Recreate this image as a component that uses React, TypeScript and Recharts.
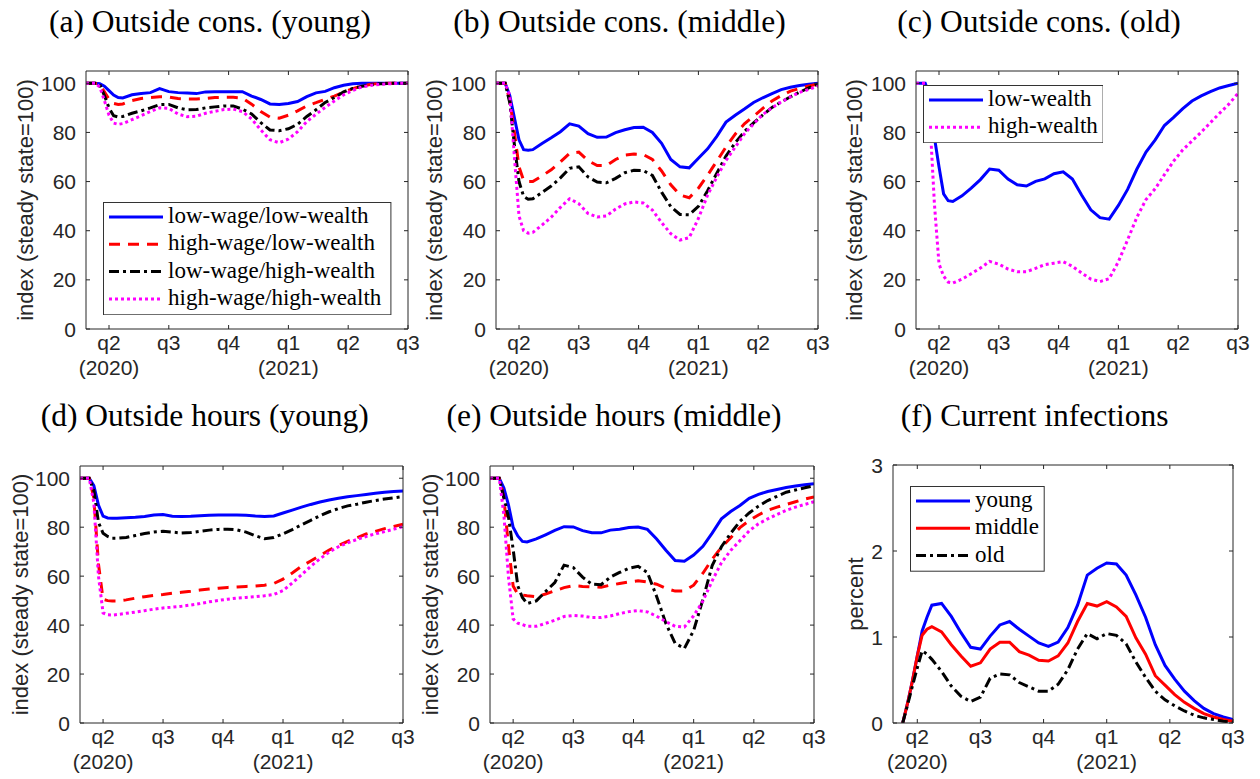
import React from 'react';
import { LineChart, Line, XAxis, YAxis, Legend } from 'recharts';

// ---------- shared axes ----------
const weeks = [0, 1, 2, 3, 4, 5, 6, 7, 8, 10, 12, 14, 16, 18, 20, 22, 24, 26, 28, 30, 32, 34, 36, 38, 40, 42, 44, 46, 48, 50, 52, 54, 56, 58, 60, 62, 64, 66, 68, 70];
const quarterTicks = [5, 18, 31, 44, 57, 70];
const quarterLabels = ['q2', 'q3', 'q4', 'q1', 'q2', 'q3'];
const yearLabels = ['(2020)', '', '', '(2021)', '', ''];
const indexTicks = [0, 20, 40, 60, 80, 100];
const percentTicks = [0, 1, 2, 3];

// ---------- (a) Outside cons. (young) ----------
const consYoungLwLw = [100, 100, 100, 99.8, 98.8, 97, 95.2, 94.2, 94, 95.3, 95.8, 96.2, 97.8, 96.6, 96.2, 96, 95.8, 96.5, 96.6, 96.6, 96.6, 96.6, 94.8, 93.4, 91.6, 91.4, 91.8, 92.6, 94.6, 96.1, 96.7, 98.2, 99.2, 99.8, 100, 100, 100, 100, 100, 100];
const consYoungHwLw = [100, 100, 100, 99.5, 96.5, 93.5, 91.8, 91.4, 91.6, 93, 93.8, 94.2, 94.5, 94.4, 93.8, 93.6, 93.6, 93.8, 94.2, 94.3, 94.3, 94, 91.5, 88.5, 86.2, 85.8, 87, 88.8, 90.8, 92.1, 93.5, 94.8, 96.4, 97.8, 98.9, 99.6, 100, 100, 100, 100];
const consYoungLwHw = [100, 100, 100, 99.5, 95, 90, 86.8, 86.3, 86.5, 87.8, 88.8, 90, 91.3, 91.4, 90, 89.2, 89.3, 90, 90.4, 90.8, 90.8, 89.5, 87.5, 84, 81, 80.7, 81.5, 83.3, 86.5, 89.2, 92.2, 94.2, 96.5, 97.9, 98.8, 99.4, 99.8, 100, 100, 100];
const consYoungHwHw = [100, 100, 100, 98.5, 93, 87, 83.8, 83.3, 83.6, 85.2, 86.8, 88.5, 90, 89.8, 87.5, 86.4, 86.6, 87.8, 88.6, 89.3, 89.5, 88.5, 85.5, 81, 77, 75.8, 77.3, 80.3, 84.4, 87.4, 90.2, 92.8, 95.3, 97.1, 98.5, 99.2, 99.6, 99.8, 100, 100];

// ---------- (b) Outside cons. (middle) ----------
const consMiddleLwLw = [100, 100, 100, 95, 86, 77, 73, 72.8, 73, 75.5, 77.8, 80.3, 83.5, 82.6, 79.5, 78, 78.1, 79.9, 81.1, 82, 82.1, 80, 75.6, 69, 66, 65.6, 69.5, 73.3, 78.4, 84.2, 87, 89.5, 92.2, 94.1, 95.8, 97.4, 98.4, 99.1, 99.6, 100];
const consMiddleHwLw = [100, 100, 100, 93, 80, 66, 60.5, 60, 60, 62.3, 64.8, 68, 71.5, 72, 68.5, 66.5, 66.5, 69, 70.8, 71.2, 71, 69, 64.3, 58.7, 54.5, 53.4, 57.3, 62.6, 68.3, 74.1, 79.3, 83.5, 86.6, 89.8, 92.8, 95, 96.8, 97.9, 98.9, 99.7];
const consMiddleLwHw = [100, 100, 100, 92, 75, 60, 54, 52.8, 53, 55.6, 58.2, 61.5, 65.4, 66, 61.9, 59.8, 59.5, 61.3, 63.6, 64.6, 64.5, 62.5, 55.7, 49.8, 46.6, 46.5, 49.9, 56.3, 63.4, 70.4, 75.8, 80.4, 83.9, 87.1, 90.2, 92.4, 94.5, 96.4, 98.1, 99.7];
const consMiddleHwHw = [100, 100, 100, 95, 70, 46, 40, 39, 39.3, 42.3, 45.5, 49.5, 53, 51, 47, 45.6, 46, 48.8, 50.9, 51.7, 51.3, 48.4, 43.3, 38.8, 36.2, 37.2, 45, 54.5, 61.8, 68.6, 74, 79.4, 83.5, 87.3, 90, 92.4, 94.5, 96.3, 97.5, 98.9];

// ---------- (c) Outside cons. (old) ----------
const consOldLw = [100, 100, 100, 95, 78, 66, 55, 52.2, 51.9, 54.2, 57.3, 60.8, 65.1, 64.6, 61, 58.7, 58.2, 60.1, 61.1, 63.2, 64, 61, 54.5, 48.5, 45.3, 44.7, 50.3, 56.8, 65, 72, 77, 82.8, 86.1, 89.7, 92.8, 94.9, 96.6, 98.1, 99.1, 100];
const consOldHw = [100, 100, 100, 86, 51, 26.5, 21.5, 19.1, 18.7, 20.3, 22.5, 24.8, 27.5, 26.4, 24.4, 23.3, 23.3, 24.7, 26.2, 26.8, 27.4, 25.5, 22.8, 20.3, 19.3, 20.5, 27.4, 36.3, 45.4, 52.7, 57.1, 62.8, 68.3, 72.9, 76.5, 80.1, 84, 87.8, 91.5, 95.9];

// ---------- (d) Outside hours (young) ----------
const hoursYoungLwLw = [100, 100, 100, 97, 89, 84.5, 83.8, 83.7, 83.7, 83.9, 84.1, 84.4, 85, 85.2, 84.5, 84.4, 84.5, 84.7, 84.9, 85, 85, 85, 84.9, 84.6, 84.4, 84.6, 85.8, 87, 88.2, 89.3, 90.3, 91.1, 91.8, 92.4, 92.9, 93.4, 93.9, 94.3, 94.6, 94.8];
const hoursYoungHwLw = [100, 100, 100, 92, 65, 50.5, 50, 49.8, 49.8, 50.3, 51, 51.6, 52.1, 52.5, 53, 53.4, 53.8, 54.3, 54.7, 55.1, 55.4, 55.6, 55.8, 56, 56.3, 57, 58.8, 61.3, 64, 66.2, 68.4, 70.7, 72.5, 74.2, 75.7, 77.2, 78.3, 79.4, 80.3, 81.2];
const hoursYoungLwHw = [100, 100, 100, 95, 82, 77.5, 76.2, 75.5, 75.5, 75.8, 76.6, 77.4, 78, 78.3, 78, 77.6, 77.8, 78.3, 78.8, 79.1, 79.2, 78.9, 78, 76.5, 75.3, 75.8, 77.3, 79, 81, 82.8, 84.7, 86.3, 87.6, 88.7, 89.4, 90.2, 90.9, 91.5, 92, 92.5];
const hoursYoungHwHw = [100, 100, 100, 90, 60, 45, 44.2, 44.1, 44.3, 44.8, 45.3, 45.9, 46.5, 47, 47.3, 47.7, 48.2, 48.8, 49.5, 50.1, 50.6, 51, 51.3, 51.6, 52, 52.5, 54.1, 57.2, 60.5, 64, 67.1, 69.8, 72, 73.6, 75, 76.2, 77.3, 78.2, 79.2, 80.2];

// ---------- (e) Outside hours (middle) ----------
const hoursMiddleLwLw = [100, 100, 100, 96, 89, 80, 76.4, 74.2, 74, 75.2, 76.9, 78.7, 80.2, 80.1, 78.6, 77.7, 77.7, 78.8, 79.2, 79.9, 80.1, 79.1, 75.2, 70.6, 66.4, 66.1, 68.6, 72.2, 77.6, 83.4, 86.4, 88.9, 91.8, 93.4, 94.6, 95.4, 96.2, 96.8, 97.3, 97.8];
const hoursMiddleHwLw = [100, 100, 100, 92, 72, 56, 52.6, 52.3, 52, 51.6, 52.7, 54, 55.3, 56.1, 55.8, 55.6, 55.5, 56.3, 57, 57.6, 58.1, 57.6, 56.7, 55, 53.9, 54, 56.3, 61.2, 66.9, 71.8, 75.7, 79.8, 82.7, 85, 86.9, 88.2, 89.3, 90.4, 91.5, 92.4];
const hoursMiddleLwHw = [100, 100, 100, 92, 84, 71, 56, 51.3, 48.8, 49.9, 53.7, 57.4, 64.5, 63.5, 59.6, 56.7, 56.5, 59.6, 61.5, 63.2, 64, 61.5, 51.7, 40.7, 32.5, 30.5, 37.8, 50.5, 64.3, 72, 77.5, 82.4, 85.8, 88.6, 90.9, 92.6, 94.3, 95.2, 96.1, 96.9];
const hoursMiddleHwHw = [100, 100, 100, 85, 59.5, 42.5, 40.8, 40.2, 39.5, 39.5, 40.7, 42, 43.5, 43.9, 43.7, 43.1, 43.1, 43.7, 44.7, 45.5, 45.9, 45.4, 43.6, 41.4, 39.5, 39.2, 43.8, 49.8, 58.1, 65.5, 70.5, 74.5, 78.5, 81.4, 83.4, 85.2, 86.9, 88.2, 89.3, 90.4];

// ---------- (f) Current infections ----------
const infYoung = [null, null, 0, 0.23, 0.49, 0.78, 1.07, 1.23, 1.37, 1.39, 1.24, 1.05, 0.88, 0.86, 1.01, 1.14, 1.18, 1.09, 1.01, 0.93, 0.89, 0.94, 1.11, 1.37, 1.72, 1.8, 1.86, 1.85, 1.72, 1.49, 1.23, 0.91, 0.67, 0.51, 0.37, 0.26, 0.17, 0.11, 0.07, 0.04];
const infMiddle = [null, null, 0, 0.23, 0.49, 0.78, 1.02, 1.09, 1.12, 1.06, 0.91, 0.78, 0.66, 0.7, 0.86, 0.94, 0.94, 0.83, 0.79, 0.73, 0.72, 0.78, 0.93, 1.18, 1.39, 1.36, 1.41, 1.35, 1.24, 0.99, 0.8, 0.55, 0.44, 0.33, 0.24, 0.17, 0.11, 0.07, 0.04, 0.02];
const infOld = [null, null, 0, 0.21, 0.43, 0.64, 0.84, 0.8, 0.74, 0.6, 0.43, 0.31, 0.25, 0.3, 0.52, 0.57, 0.56, 0.47, 0.42, 0.37, 0.37, 0.45, 0.62, 0.86, 1.04, 0.98, 1.04, 1.02, 0.92, 0.71, 0.53, 0.37, 0.27, 0.2, 0.14, 0.09, 0.06, 0.04, 0.02, 0.01];

// ---------- styles ----------
const BLUE = '#0000ff';
const RED = '#ff0000';
const BLACK = '#000000';
const MAGENTA = '#ff00ff';
const DASH = '11 8';
const DASHDOT = '10 4 3 4';
const DOT = '3 3';
const AXIS = '#262626';
const SANS = "'Liberation Sans', Arial, Helvetica, sans-serif";
const SERIF = "'Liberation Serif', 'Times New Roman', serif";
const TICK_FS = 21;
const LABEL_FS = 22;
// outer space around the plot box (axes take 1px each, included here)
const ML = 80;
const MR = 20;
const MT = 10;
const MB = 60;

type SeriesDef = { key: string; name: string; values: (number | null)[]; color: string; dash?: string };
type LegendDef = { dx: number; dy: number; w: number; h: number };
type PanelDef = {
  title: string;
  titleX: number;
  titleBase: number;
  left: number;
  top: number;
  w: number;
  h: number;
  yLabel: string;
  yLabelDx: number;
  yMax: number;
  yTicks: number[];
  series: SeriesDef[];
  legend?: LegendDef;
};

const fourGroups = (a: number[], b: number[], c: number[], d: number[]): SeriesDef[] => [
  { key: 'lwlw', name: 'low-wage/low-wealth', values: a, color: BLUE },
  { key: 'hwlw', name: 'high-wage/low-wealth', values: b, color: RED, dash: DASH },
  { key: 'lwhw', name: 'low-wage/high-wealth', values: c, color: BLACK, dash: DASHDOT },
  { key: 'hwhw', name: 'high-wage/high-wealth', values: d, color: MAGENTA, dash: DOT },
];

const YL = 'index (steady state=100)';

const panels: PanelDef[] = [
  {
    title: '(a) Outside cons. (young)', titleX: 210, titleBase: 32, left: 86, top: 71, w: 322, h: 258,
    yLabel: YL, yLabelDx: -61, yMax: 105, yTicks: indexTicks,
    series: fourGroups(consYoungLwLw, consYoungHwLw, consYoungLwHw, consYoungHwHw),
    legend: { dx: 17.3, dy: 130.7, w: 288.4, h: 113.3 },
  },
  {
    title: '(b) Outside cons. (middle)', titleX: 619.5, titleBase: 32, left: 496, top: 71, w: 322, h: 258,
    yLabel: YL, yLabelDx: -62, yMax: 105, yTicks: indexTicks,
    series: fourGroups(consMiddleLwLw, consMiddleHwLw, consMiddleLwHw, consMiddleHwHw),
  },
  {
    title: '(c) Outside cons. (old)', titleX: 1039, titleBase: 32, left: 916, top: 71, w: 322, h: 258,
    yLabel: YL, yLabelDx: -62, yMax: 105, yTicks: indexTicks,
    series: [
      { key: 'lw', name: 'low-wealth', values: consOldLw, color: BLUE },
      { key: 'hw', name: 'high-wealth', values: consOldHw, color: MAGENTA, dash: DOT },
    ],
    legend: { dx: 6.7, dy: 14, w: 180.6, h: 58.3 },
  },
  {
    title: '(d) Outside hours (young)', titleX: 204.7, titleBase: 426, left: 80, top: 466, w: 323, h: 257,
    yLabel: YL, yLabelDx: -60, yMax: 105, yTicks: indexTicks,
    series: fourGroups(hoursYoungLwLw, hoursYoungHwLw, hoursYoungLwHw, hoursYoungHwHw),
  },
  {
    title: '(e) Outside hours (middle)', titleX: 614, titleBase: 426, left: 490, top: 466, w: 324, h: 257,
    yLabel: YL, yLabelDx: -60, yMax: 105, yTicks: indexTicks,
    series: fourGroups(hoursMiddleLwLw, hoursMiddleHwLw, hoursMiddleLwHw, hoursMiddleHwHw),
  },
  {
    title: '(f) Current infections', titleX: 1034.7, titleBase: 426, left: 893, top: 465, w: 340, h: 258,
    yLabel: 'percent', yLabelDx: -38, yMax: 3, yTicks: percentTicks,
    series: [
      { key: 'young', name: 'young', values: infYoung, color: BLUE },
      { key: 'middle', name: 'middle', values: infMiddle, color: RED },
      { key: 'old', name: 'old', values: infOld, color: BLACK, dash: DASHDOT },
    ],
    legend: { dx: 17.3, dy: 21, w: 134.7, h: 85.7 },
  },
];

function buildRows(series: SeriesDef[]) {
  return weeks.map((w, i) => {
    const row: Record<string, number | null> = { week: w };
    series.forEach((s) => {
      row[s.key] = s.values[i];
    });
    return row;
  });
}

// ---------- custom axis pieces ----------
function BottomTick(props: any) {
  const { x, y, payload } = props;
  const i = quarterTicks.indexOf(payload.value);
  return (
    <g>
      <line x1={x} x2={x} y1={y} y2={y - 4} stroke={AXIS} strokeWidth={1} />
      <text x={x} y={y + 21} textAnchor="middle" fontFamily={SANS} fontSize={TICK_FS} fill={AXIS}>
        {quarterLabels[i]}
      </text>
      {yearLabels[i] ? (
        <text x={x} y={y + 46} textAnchor="middle" fontFamily={SANS} fontSize={TICK_FS} fill={AXIS}>
          {yearLabels[i]}
        </text>
      ) : null}
    </g>
  );
}

function TopTick(props: any) {
  const { x, y } = props;
  return <line x1={x} x2={x} y1={y} y2={y + 4} stroke={AXIS} strokeWidth={1} />;
}

function LeftTick(props: any) {
  const { x, y, payload } = props;
  return (
    <g>
      <line x1={x} x2={x + 4} y1={y} y2={y} stroke={AXIS} strokeWidth={1} />
      <text x={x - 10} y={y + 7.5} textAnchor="end" fontFamily={SANS} fontSize={TICK_FS} fill={AXIS}>
        {payload.value}
      </text>
    </g>
  );
}

function RightTick(props: any) {
  const { x, y } = props;
  return <line x1={x} x2={x - 4} y1={y} y2={y} stroke={AXIS} strokeWidth={1} />;
}

function YLabel(props: any) {
  const { text, cx, cy } = props;
  return (
    <text
      x={cx}
      y={cy}
      dy="0.35em"
      transform={`rotate(-90 ${cx} ${cy})`}
      textAnchor="middle"
      fontFamily={SANS}
      fontSize={LABEL_FS}
      fill={AXIS}
    >
      {text}
    </text>
  );
}

function LegendBox({ items, w, h }: { items: SeriesDef[]; w: number; h: number }) {
  return (
    <svg width={w} height={h} style={{ display: 'block' }}>
      <rect x={0.5} y={0.5} width={w - 1} height={h - 1} fill="#ffffff" stroke="#333333" strokeWidth={1} />
      {items.map((s, i) => {
        const cy = 15 + i * 27.3;
        return (
          <g key={s.key}>
            <line x1={6} x2={60} y1={cy} y2={cy} stroke={s.color} strokeWidth={3} strokeDasharray={s.dash} />
            <text x={65} y={cy + 6} fontFamily={SERIF} fontSize={23} fill="#000">
              {s.name}
            </text>
          </g>
        );
      })}
    </svg>
  );
}

function Panel({ p }: { p: PanelDef }) {
  const rows = buildRows(p.series);
  const width = p.w + ML + MR;
  const height = p.h + MT + MB;
  return (
    <>
      <div
        style={{
          position: 'absolute',
          left: p.titleX - 250,
          width: 500,
          top: p.titleBase - 26,
          textAlign: 'center',
          fontFamily: SERIF,
          fontSize: 31.5,
          lineHeight: '31px',
          color: '#000',
          whiteSpace: 'nowrap',
        }}
      >
        {p.title}
      </div>
      <div style={{ position: 'absolute', left: p.left - ML, top: p.top - MT }}>
        <LineChart
          width={width}
          height={height}
          data={rows}
          margin={{ top: MT - 1, right: MR - 1, bottom: MB - 1, left: ML - 1 }}
        >
          <XAxis
            dataKey="week"
            type="number"
            domain={[0, 70]}
            ticks={quarterTicks}
            interval={0}
            height={1}
            tickSize={0}
            tickMargin={0}
            tickLine={false}
            tick={<BottomTick />}
            axisLine={{ stroke: AXIS }}
            allowDataOverflow
          />
          <XAxis
            xAxisId="top"
            orientation="top"
            dataKey="week"
            type="number"
            domain={[0, 70]}
            ticks={quarterTicks}
            interval={0}
            height={1}
            tickSize={0}
            tickMargin={0}
            tickLine={false}
            tick={<TopTick />}
            axisLine={{ stroke: AXIS }}
            allowDataOverflow
          />
          <YAxis
            type="number"
            domain={[0, p.yMax]}
            ticks={p.yTicks}
            interval={0}
            width={1}
            tickSize={0}
            tickMargin={0}
            tickLine={false}
            tick={<LeftTick />}
            axisLine={{ stroke: AXIS }}
            allowDataOverflow
            label={<YLabel text={p.yLabel} cx={ML + p.yLabelDx} cy={MT + p.h / 2} />}
          />
          <YAxis
            yAxisId="right"
            orientation="right"
            type="number"
            domain={[0, p.yMax]}
            ticks={p.yTicks}
            interval={0}
            width={1}
            tickSize={0}
            tickMargin={0}
            tickLine={false}
            tick={<RightTick />}
            axisLine={{ stroke: AXIS }}
            allowDataOverflow
          />
          {p.series.map((s) => (
            <Line
              key={s.key}
              type="linear"
              dataKey={s.key}
              name={s.name}
              stroke={s.color}
              strokeWidth={3}
              strokeDasharray={s.dash}
              dot={false}
              activeDot={false}
              connectNulls={false}
              isAnimationActive={false}
            />
          ))}
          {p.legend ? (
            <Legend
              layout="horizontal"
              verticalAlign="middle"
              align="center"
              content={() => <LegendBox items={p.series} w={p.legend!.w} h={p.legend!.h} />}
              wrapperStyle={{
                position: 'absolute',
                left: ML + p.legend.dx,
                top: MT + p.legend.dy,
                width: p.legend.w,
                height: p.legend.h,
                margin: 0,
                padding: 0,
              }}
            />
          ) : null}
        </LineChart>
      </div>
    </>
  );
}

export default function App() {
  return (
    <div
      style={{
        position: 'absolute',
        left: 0,
        top: 0,
        width: 1260,
        height: 779,
        background: '#ffffff',
        overflow: 'hidden',
      }}
    >
      {panels.map((p) => (
        <Panel key={p.title} p={p} />
      ))}
    </div>
  );
}
